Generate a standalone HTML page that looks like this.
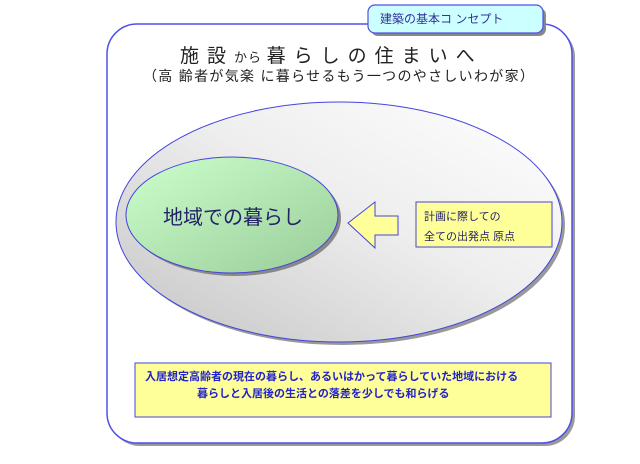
<!DOCTYPE html>
<html><head><meta charset="utf-8"><style>
body{margin:0;width:640px;height:464px;background:#fff;position:relative;overflow:hidden;font-family:"Liberation Sans","Noto Sans CJK JP",sans-serif}
.a{position:absolute;white-space:nowrap}
</style></head><body>
<svg class="a" style="left:0;top:0" width="640" height="464">
<defs>
<linearGradient id="g1" x1="0" y1="1" x2="1" y2="0"><stop offset="0" stop-color="#c4c4c4"/><stop offset="0.55" stop-color="#eeeeee"/><stop offset="1" stop-color="#ffffff"/></linearGradient>
<linearGradient id="g2" x1="0" y1="0" x2="1" y2="1"><stop offset="0" stop-color="#ccffcc"/><stop offset="1" stop-color="#99cc99"/></linearGradient>
</defs>
<rect x="110" y="27" width="465" height="419" rx="30" fill="#999"/>
<rect x="107" y="24" width="465" height="419" rx="30" fill="#fff" stroke="#5050e8" stroke-width="1.5"/>
<rect x="371" y="8" width="175" height="28" rx="7" fill="#888"/>
<rect x="368" y="5" width="175" height="28" rx="7" fill="#ccffff" stroke="#5050e8" stroke-width="1.2"/>
<ellipse cx="342" cy="225" rx="223" ry="120" fill="#999"/>
<ellipse cx="339" cy="222" rx="223" ry="120" fill="url(#g1)" stroke="#4444dd" stroke-width="1"/>
<ellipse cx="235" cy="218" rx="106" ry="58" fill="#888"/>
<ellipse cx="232" cy="215" rx="106" ry="58" fill="url(#g2)" stroke="#4444dd" stroke-width="1"/>
<polygon points="348,223 375,202 375,216 398,216 398,235 375,235 375,248" fill="#ffff99" stroke="#4444dd" stroke-width="1"/>
<rect x="416" y="202" width="136" height="45" fill="#ffff99" stroke="#4444dd" stroke-width="1"/>
<rect x="135" y="363" width="416" height="54" fill="#ffff99" stroke="#4444dd" stroke-width="1"/>
</svg>
<div class="a" style="left:380px;top:10px;font-size:12px;color:#333399">建築の基本コ ンセプト</div>
<div class="a" style="left:180px;top:41px;font-size:19px;color:#222;letter-spacing:8px">施設<span style="font-size:13px;letter-spacing:1px">から </span>暮らしの住まいへ</div>
<div class="a" style="left:143px;top:66px;font-size:14px;color:#222;letter-spacing:1.3px">（高 齢者が気楽 に暮らせるもう一つのやさしいわが家）</div>
<div class="a" style="left:163px;top:201px;font-size:20px;color:#222266">地域での暮らし</div>
<div class="a" style="left:424px;top:207px;font-size:11px;color:#222266;line-height:20px">計画に際しての<br>全ての出発点 原点</div>
<div class="a" style="left:145px;top:369px;font-size:11px;color:#2222cc;line-height:17px;font-weight:bold">入居想定高齢者の現在の暮らし、あるいはかって暮らしていた地域における<br><span style="padding-left:52px">暮らしと入居後の生活との落差を少しでも和らげる</span></div>
</body></html>
